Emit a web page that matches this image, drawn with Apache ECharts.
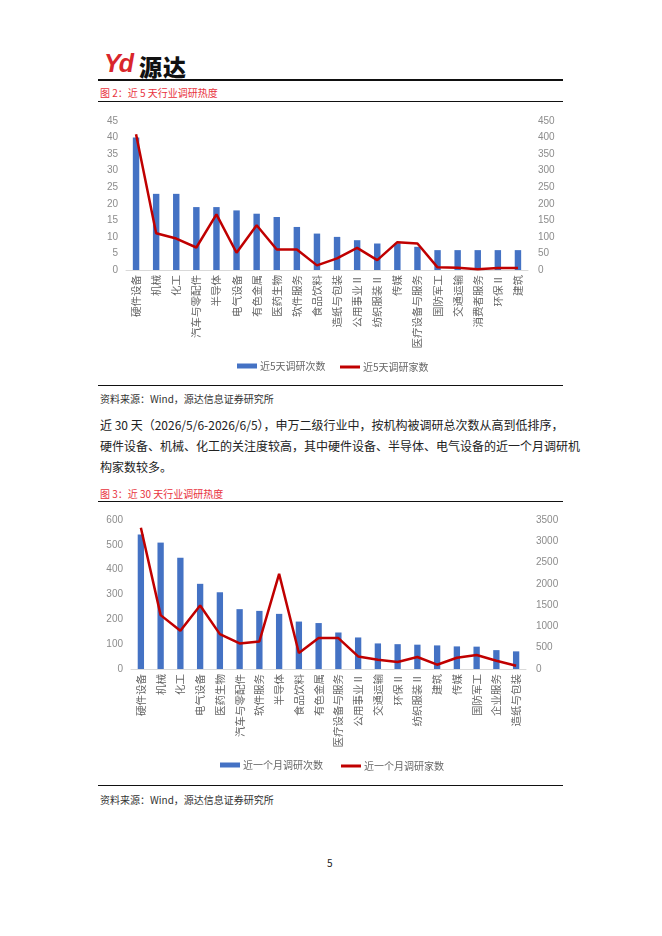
<!DOCTYPE html>
<html>
<head>
<meta charset="utf-8">
<script src="https://cdn.jsdelivr.net/npm/echarts@6/dist/echarts.min.js"></script>
<style>
  html, body { margin: 0; padding: 0; background: #fff; }
  body { width: 662px; height: 936px; position: relative; font-family: 'Noto Sans CJK SC', sans-serif; color: #222; }
  .abs { position: absolute; white-space: nowrap; }
  .rule { position: absolute; left: 98px; width: 465px; background: #111; }
  .cap { color: #e8323c; font-size: 10px; left: 100px; }
  .src { font-size: 10px; left: 100px; color: #333; }
  .para { left: 100px; width: 462px; font-size: 12px; color: #222; text-align: justify; text-align-last: justify; }
</style>
</head>
<body>
<div class="abs" style="left:104px; top:49px; font-family:'Liberation Sans',sans-serif; font-weight:bold; font-style:italic; font-size:25px; color:#d9262c; letter-spacing:-2px;">Yd</div>
<div class="abs" style="left:139px; top:49px; font-weight:900; font-size:23px; color:#111; letter-spacing:1px;">源达</div>
<div class="rule" style="top:79px; height:1.5px;"></div>
<div class="abs cap" style="top:85px;">图 2：近 5 天行业调研热度</div>
<div class="rule" style="top:101px; height:1.2px;"></div>
<div id="c1" class="abs" style="left:90px; top:105px; width:480px; height:272px;"></div>
<div class="rule" style="top:385px; height:1px;"></div>
<div class="abs src" style="top:391px;">资料来源：Wind，源达信息证券研究所</div>
<div class="abs para" style="top:416px;">近 30 天（2026/5/6-2026/6/5），申万二级行业中，按机构被调研总次数从高到低排序，</div>
<div class="abs para" style="top:437px;">硬件设备、机械、化工的关注度较高，其中硬件设备、半导体、电气设备的近一个月调研机</div>
<div class="abs para" style="top:458px; text-align-last:left;">构家数较多。</div>
<div class="abs cap" style="top:486px;">图 3：近 30 天行业调研热度</div>
<div class="rule" style="top:501px; height:1.2px;"></div>
<div id="c2" class="abs" style="left:90px; top:505px; width:480px; height:272px;"></div>
<div class="rule" style="top:785px; height:1px;"></div>
<div class="abs src" style="top:792px;">资料来源：Wind，源达信息证券研究所</div>
<div class="abs" style="left:327px; top:855px; font-size:10px; color:#222;">5</div>

<script>
// 图2：近5天
const cats5 = ['硬件设备','机械','化工','汽车与零配件','半导体','电气设备','有色金属','医药生物','软件服务','食品饮料','造纸与包装','公用事业Ⅱ','纺织服装Ⅱ','传媒','医疗设备与服务','国防军工','交通运输','消费者服务','环保Ⅱ','建筑'];
const count5 = [40,23,23,19,19,18,17,16,13,11,10,9,8,8,7,6,6,6,6,6];
const inst5 = [410,111,95,68,168,52,135,62,62,14,35,67,30,84,80,8,7,2,6,6];

// 图3：近30天
const cats30 = ['硬件设备','机械','化工','电气设备','医药生物','汽车与零配件','软件服务','半导体','食品饮料','有色金属','医疗设备与服务','公用事业Ⅱ','交通运输','环保Ⅱ','纺织服装Ⅱ','建筑','传媒','国防军工','企业服务','造纸与包装'];
const count30 = [542,509,448,343,309,241,234,222,191,185,147,127,103,100,98,95,91,90,76,71];
const inst30 = [3320,1266,898,1491,820,600,647,2234,375,727,727,296,218,164,281,101,265,328,195,77];

const FONT = 'Noto Sans CJK SC';
const BLUE = '#4472c4';
const RED = '#c00000';

// legend: one block per series so the line icon can be thinner than the bar icon
function legendItem(name, left, top, h) {
  return {
    data: [{ name: name, icon: 'rect' }],
    left: left, top: top, itemWidth: 20, itemHeight: h, itemGap: 0,
    textStyle: { color: '#666', fontSize: 10, fontFamily: FONT, padding: [0, 0, 0, -2] }
  };
}

function makeOption(cats, bars, line, names, left, right, grid, legendTop, legendLeft) {
  const yAxis = (ax, side) => ({
    type: 'value', position: side,
    min: 0, max: ax.max, interval: ax.step,
    splitLine: { show: false },
    axisLine: { show: false },
    axisTick: { show: false },
    axisLabel: { color: '#8c8c8c', fontSize: 10, fontFamily: 'Liberation Sans',
      margin: side === 'left' ? 8 : 10, formatter: v => String(v) }
  });
  return {
    animation: false,
    textStyle: { fontFamily: FONT },
    grid: grid,
    legend: [
      legendItem(names[0], legendLeft[0], legendTop, 5),
      legendItem(names[1], legendLeft[1], legendTop + 1, 3)
    ],
    xAxis: {
      type: 'category', data: cats,
      axisLine: { lineStyle: { color: '#d9d9d9' } },
      axisTick: { show: false },
      axisLabel: { rotate: 90, interval: 0, color: '#666', fontSize: 10.5, margin: 5, fontFamily: FONT }
    },
    yAxis: [yAxis(left, 'left'), yAxis(right, 'right')],
    series: [
      { name: names[0], type: 'bar', data: bars, barWidth: '32%', itemStyle: { color: BLUE } },
      { name: names[1], type: 'line', yAxisIndex: 1, data: line, symbol: 'none',
        lineStyle: { color: RED, width: 2.5 }, itemStyle: { color: RED } }
    ]
  };
}

const chart1 = echarts.init(document.getElementById('c1'));
chart1.setOption(makeOption(cats5, count5, inst5, ['近5天调研次数', '近5天调研家数'],
  { max: 45, step: 5 }, { max: 450, step: 50 },
  { left: 36, top: 16, width: 402, height: 149 }, 251, [142, 245]));

const chart2 = echarts.init(document.getElementById('c2'));
chart2.setOption(makeOption(cats30, count30, inst30, ['近一个月调研次数', '近一个月调研家数'],
  { max: 600, step: 100 }, { max: 3500, step: 500 },
  { left: 41, top: 15, width: 395, height: 149 }, 250, [125, 246]));
</script>
</body>
</html>
